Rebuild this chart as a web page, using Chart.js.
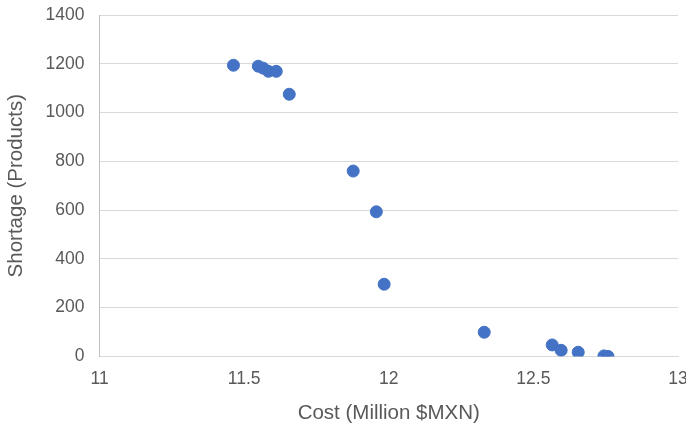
<!DOCTYPE html>
<html>
<head>
<meta charset="utf-8">
<script src="https://cdn.jsdelivr.net/npm/chart.js@4"></script>
<style>
  html, body { margin: 0; padding: 0; background: #fff; }
  #wrap { width: 686px; height: 426px; }
</style>
</head>
<body>
<div id="wrap"><canvas id="scatter"></canvas></div>
<script>
const costs = [11.463, 11.549, 11.566, 11.584, 11.611, 11.656, 11.877, 11.957, 11.984, 12.330, 12.565, 12.596, 12.655, 12.744, 12.758];
const shortages = [1194, 1190, 1182, 1169, 1169, 1075, 760, 593, 296, 99, 47, 25, 17, 2, 0];
const xTicks = [11, 11.5, 12, 12.5, 13];
const yTicks = [0, 200, 400, 600, 800, 1000, 1200, 1400];

const points = costs.map((c, i) => ({ x: c, y: shortages[i] }));
const font = 'Liberation Sans, Arial, sans-serif';

const ctx = document.getElementById('scatter');
new Chart(ctx, {
    type: 'scatter',
    data: {
        datasets: [{
            label: 'Shortage',
            data: points,
            backgroundColor: '#4472C4',
            borderColor: '#4472C4',
            pointRadius: 6,
            pointHoverRadius: 6,
        }]
    },
    options: {
        responsive: true,
        maintainAspectRatio: false,
        animation: false,
        layout: { padding: { top: 0, right: 8, left: 4, bottom: 0 } },
        plugins: {
            legend: { display: false },
            tooltip: { enabled: false }
        },
        scales: {
            x: {
                type: 'linear',
                min: 11,
                max: 13,
                afterBuildTicks: (axis) => { axis.ticks = xTicks.map(v => ({ value: v })); },
                afterFit: (axis) => { axis.paddingRight = 0; },
                ticks: { color: '#595959', font: { family: font, size: 17.5 }, padding: 12, callback: (v) => String(v) },
                grid: { display: false, drawTicks: false },
                border: { color: '#d9d9d9', width: 1 },
                title: { display: true, text: 'Cost (Million $MXN)', color: '#595959', font: { family: font, size: 20.5 }, padding: { top: 0, bottom: 0 } }
            },
            y: {
                min: 0,
                max: 1400,
                afterBuildTicks: (axis) => { axis.ticks = yTicks.map(v => ({ value: v })); },
                afterFit: (axis) => { axis.paddingTop = 15; },
                ticks: { color: '#595959', font: { family: font, size: 17.5 }, padding: 15, callback: (v) => String(v) },
                grid: { color: '#d9d9d9', drawTicks: false },
                border: { color: '#bfbfbf', width: 1 },
                title: { display: true, text: 'Shortage (Products)', color: '#595959', font: { family: font, size: 20.5 }, padding: { top: 0, bottom: 2 } }
            }
        }
    }
});
</script>
</body>
</html>
